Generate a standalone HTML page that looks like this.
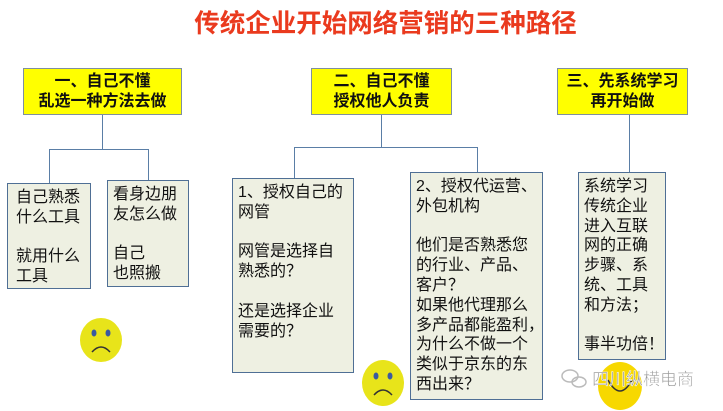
<!DOCTYPE html>
<html><head><meta charset="utf-8"><style>
body{margin:0;width:723px;height:411px;background:#fff;position:relative;overflow:hidden;font-family:"Liberation Sans","Noto Sans CJK SC",sans-serif}
.t{position:absolute;left:0;width:723px;top:8px;text-align:center;font-size:25.5px;font-weight:bold;color:#ea3a1e;line-height:32px;padding-left:48px;box-sizing:border-box}
.y{position:absolute;background:#ffff00;border:1px solid #7f8f9f;text-align:center;font-weight:bold;font-size:16px;line-height:20px;color:#111;box-sizing:border-box;padding-top:3px}
.c{position:absolute;background:#eef0e2;border:1px solid #4f6f95;box-sizing:border-box;font-size:16px;line-height:19.8px;color:#111;padding:4px 0 0 5px;white-space:nowrap;overflow:visible}
.l{position:absolute;background:#5a7ea6}
</style></head><body>
<div class="t">传统企业开始网络营销的三种路径</div>
<div class="y" style="left:23px;top:68px;width:159px;height:47px">一、自己不懂<br>乱选一种方法去做</div>
<div class="y" style="left:311px;top:68px;width:141px;height:47px">二、自己不懂<br>授权他人负责</div>
<div class="y" style="left:557px;top:68px;width:131px;height:47px">三、先系统学习<br>再开始做</div>
<div class="l" style="left:102px;top:115px;width:1px;height:34px"></div>
<div class="l" style="left:49px;top:149px;width:100px;height:1px"></div>
<div class="l" style="left:49px;top:149px;width:1px;height:34px"></div>
<div class="l" style="left:148px;top:149px;width:1px;height:31px"></div>
<div class="l" style="left:381px;top:115px;width:1px;height:32px"></div>
<div class="l" style="left:294px;top:147px;width:184px;height:1px"></div>
<div class="l" style="left:294px;top:147px;width:1px;height:31px"></div>
<div class="l" style="left:477px;top:147px;width:1px;height:25px"></div>
<div class="l" style="left:629px;top:115px;width:1px;height:57px"></div>
<div class="c" style="left:7px;top:183px;width:84px;height:106px;padding-left:8px">自己熟悉<br>什么工具<br><br>就用什么<br>工具</div>
<div class="c" style="left:107px;top:180px;width:82px;height:107px">看身边朋<br>友怎么做<br><br>自己<br>也照搬</div>
<div class="c" style="left:232px;top:178px;width:122px;height:195px">1、授权自己的<br>网管<br><br>网管是选择自<br>熟悉的？<br><br>还是选择企业<br>需要的？</div>
<div class="c" style="left:410px;top:172px;width:133px;height:228px">2、授权代运营、<br>外包机构<br><br>他们是否熟悉您<br>的行业、产品、<br>客户？<br>如果他代理那么<br>多产品都能盈利，<br>为什么不做一个<br>类似于京东的东<br>西出来？</div>
<div class="c" style="left:578px;top:172px;width:88px;height:188px">系统学习<br>传统企业<br>进入互联<br>网的正确<br>步骤、系<br>统、工具<br>和方法；<br><br>事半功倍！</div>
<svg style="position:absolute;left:0;top:0" width="723" height="411">
<g><ellipse cx="101" cy="340" rx="21" ry="22" fill="#e8e41a"/><ellipse cx="94" cy="333" rx="2.5" ry="3.5" fill="#3a5aa0"/><ellipse cx="108" cy="333" rx="2.5" ry="3.5" fill="#3a5aa0"/><path d="M92 352 Q101 342 110 352" stroke="#333" stroke-width="1.5" fill="none"/></g>
<g><ellipse cx="383" cy="383" rx="21" ry="23" fill="#e8e41a"/><ellipse cx="376" cy="376" rx="2.5" ry="3.5" fill="#3a5aa0"/><ellipse cx="390" cy="376" rx="2.5" ry="3.5" fill="#3a5aa0"/><path d="M374 395 Q383 385 392 395" stroke="#333" stroke-width="1.5" fill="none"/></g>
<g><ellipse cx="620" cy="386" rx="22" ry="24" fill="#f7d800"/><path d="M608 380 Q620 402 632 380" stroke="#333" stroke-width="1.5" fill="none"/></g>
<g fill="none" stroke="#bbb" stroke-width="1.5"><ellipse cx="570" cy="376" rx="8" ry="6"/><ellipse cx="579" cy="382" rx="7" ry="5"/></g>
<text x="592" y="385" font-size="17" fill="#999" stroke="#fff" stroke-width="0.5" font-family="Liberation Sans, Noto Sans CJK SC, sans-serif">四川纵横电商</text>
</svg>
</body></html>
